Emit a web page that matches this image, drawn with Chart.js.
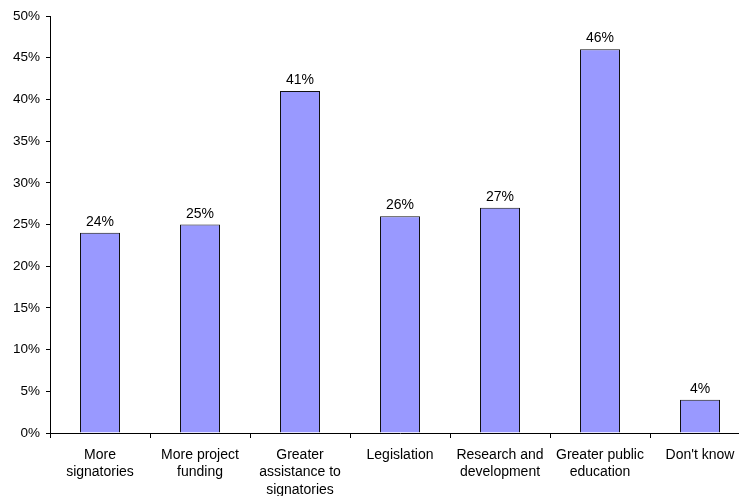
<!DOCTYPE html>
<html>
<head>
<meta charset="utf-8">
<script src="https://cdn.jsdelivr.net/npm/chart.js@4/dist/chart.umd.min.js"></script>
<style>
    html, body { margin: 0; padding: 0; background: #fff; overflow: hidden; }
    #wrap { width: 760px; height: 496px; }
</style>
</head>
<body>
<div id="wrap"><canvas id="supportChart" width="760" height="496"></canvas></div>
<script>
    const categories = [
        ['More', 'signatories'],
        ['More project', 'funding'],
        ['Greater', 'assistance to', 'signatories'],
        ['Legislation'],
        ['Research and', 'development'],
        ['Greater public', 'education'],
        ["Don't know"]
    ];
    const shares = [24, 25, 41, 26, 27, 46, 4];
    const yTicks = [0, 5, 10, 15, 20, 25, 30, 35, 40, 45, 50];

    const FONT = '"Liberation Sans", Arial, sans-serif';

    // value labels above each bar, positioned from the bar elements
    const valueLabels = {
        id: 'valueLabels',
        afterDatasetsDraw(chart) {
            const ctx = chart.ctx;
            const meta = chart.getDatasetMeta(0);
            ctx.save();
            ctx.font = '14px ' + FONT;
            ctx.fillStyle = '#000';
            ctx.textAlign = 'center';
            ctx.textBaseline = 'alphabetic';
            meta.data.forEach((bar, i) => {
                ctx.fillText(shares[i] + '%', bar.x, bar.y - 7);
            });
            ctx.restore();
        }
    };

    new Chart(document.getElementById('supportChart'), {
        type: 'bar',
        data: {
            labels: categories,
            datasets: [{
                data: shares,
                backgroundColor: '#9999ff',
                borderColor: '#111',
                borderWidth: 1,
                categoryPercentage: 1,
                barPercentage: 0.4
            }]
        },
        options: {
            responsive: false,
            animation: false,
            devicePixelRatio: 1,
            layout: { padding: { top: 16, right: 10, left: 0, bottom: 0 } },
            plugins: {
                legend: { display: false },
                tooltip: { enabled: false }
            },
            scales: {
                x: {
                    afterFit(scale) { scale.height = 63; },
                    grid: {
                        offset: true,
                        drawOnChartArea: false,
                        color: '#000',
                        tickLength: 5
                    },
                    border: { color: '#000', width: 1 },
                    ticks: {
                        color: '#000',
                        padding: 8,
                        maxRotation: 0,
                        autoSkip: false,
                        font: { family: FONT, size: 14, lineHeight: 1.25 }
                    }
                },
                y: {
                    min: 0,
                    max: 50,
                    afterFit(scale) { scale.width = 50; },
                    afterBuildTicks(scale) {
                        scale.ticks = yTicks.map(v => ({ value: v }));
                    },
                    grid: {
                        drawOnChartArea: false,
                        color: '#000',
                        tickLength: 4
                    },
                    border: { color: '#000', width: 1 },
                    ticks: {
                        color: '#000',
                        padding: 6,
                        font: { family: FONT, size: 13.5 },
                        callback: v => v + '%'
                    }
                }
            }
        },
        plugins: [valueLabels]
    });
</script>
</body>
</html>
